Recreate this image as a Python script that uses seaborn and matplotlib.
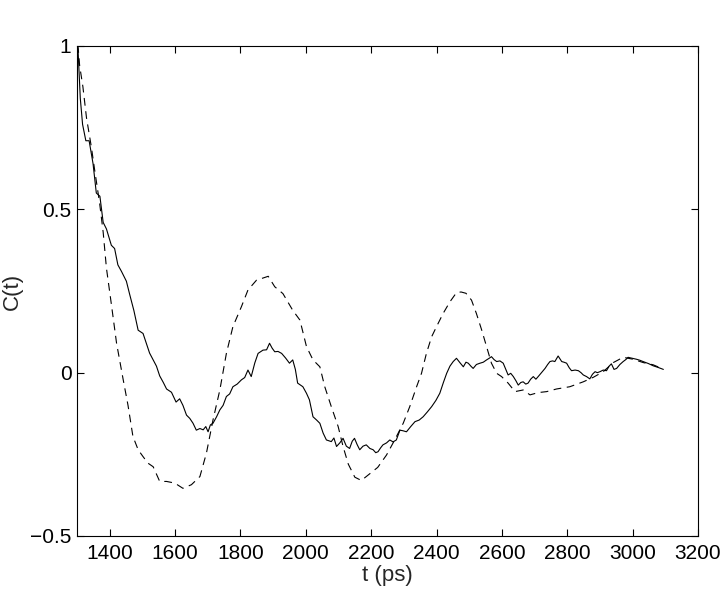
import matplotlib
matplotlib.use("Agg")
from matplotlib import pyplot as plt
import pandas as pd
import seaborn as sns

# solid curve C(t)
t_solid = [1300, 1303, 1310, 1317, 1327, 1337, 1349, 1359, 1370, 1380, 1390, 1405,
           1415, 1425, 1436, 1451, 1461, 1474, 1487, 1502, 1522, 1543, 1553, 1564,
           1574, 1589, 1603, 1614, 1624, 1635, 1645, 1655, 1665, 1676, 1686, 1694,
           1701, 1708, 1716, 1727, 1737, 1747, 1757, 1767, 1777, 1790, 1803, 1813,
           1823, 1833, 1844, 1854, 1869, 1880, 1889, 1897, 1905, 1915, 1926, 1938,
           1950, 1960, 1968, 1975, 1991, 2002, 2011, 2022, 2033, 2043, 2053, 2063,
           2078, 2086, 2094, 2104, 2114, 2124, 2134, 2142, 2149, 2157, 2165, 2175,
           2185, 2196, 2206, 2214, 2221, 2229, 2236, 2247, 2257, 2267, 2277, 2283,
           2288, 2298, 2308, 2321, 2334, 2347, 2359, 2372, 2385, 2398, 2410, 2421,
           2431, 2441, 2451, 2461, 2472, 2482, 2490, 2497, 2505, 2512, 2522, 2533,
           2543, 2553, 2561, 2568, 2576, 2584, 2594, 2604, 2612, 2619, 2627, 2635,
           2643, 2650, 2658, 2665, 2673, 2680, 2688, 2696, 2704, 2711, 2721, 2732,
           2740, 2747, 2755, 2762, 2772, 2778, 2783, 2790, 2798, 2806, 2813, 2824,
           2834, 2842, 2849, 2859, 2869, 2877, 2885, 2892, 2900, 2910, 2920, 2928,
           2935, 2943, 2951, 2961, 2971, 2979, 2986, 2999, 3012, 3022, 3032, 3048,
           3063, 3078, 3094]
c_solid = [1.00, 0.99, 0.84, 0.76, 0.71, 0.71, 0.64, 0.55, 0.54, 0.46, 0.44, 0.39,
           0.38, 0.33, 0.31, 0.28, 0.24, 0.19, 0.13, 0.12, 0.06, 0.02, -0.01, -0.03,
           -0.05, -0.06, -0.09, -0.08, -0.10, -0.13, -0.14, -0.155, -0.176, -0.171, -0.175, -0.165,
           -0.181, -0.16, -0.155, -0.135, -0.114, -0.10, -0.073, -0.065, -0.043, -0.035, -0.022, -0.015,
           0.008, -0.012, 0.03, 0.059, 0.069, 0.07, 0.090, 0.075, 0.064, 0.065, 0.059, 0.045,
           0.029, 0.039, 0.01, -0.032, -0.043, -0.063, -0.083, -0.135, -0.145, -0.155, -0.185, -0.206,
           -0.211, -0.2, -0.226, -0.215, -0.201, -0.225, -0.232, -0.21, -0.201, -0.22, -0.236, -0.225,
           -0.221, -0.232, -0.236, -0.245, -0.242, -0.23, -0.221, -0.215, -0.206, -0.212, -0.206, -0.19,
           -0.176, -0.178, -0.181, -0.165, -0.150, -0.145, -0.135, -0.12, -0.104, -0.085, -0.063, -0.03,
           -0.002, 0.02, 0.034, 0.044, 0.03, 0.018, 0.032, 0.029, 0.02, 0.013, 0.025, 0.029,
           0.032, 0.039, 0.044, 0.049, 0.04, 0.034, 0.036, 0.029, 0.01, -0.007, -0.002, -0.012,
           -0.025, -0.038, -0.03, -0.028, -0.035, -0.032, -0.02, -0.012, -0.02, -0.012, 0.0, 0.013,
           0.025, 0.034, 0.036, 0.034, 0.051, 0.042, 0.034, 0.032, 0.029, 0.015, 0.006, 0.008,
           0.006, 0.0, -0.007, -0.012, -0.019, -0.005, 0.003, 0.0, 0.003, 0.008, 0.006, 0.02,
           0.027, 0.01, 0.013, 0.025, 0.034, 0.04, 0.047, 0.044, 0.041, 0.038, 0.034, 0.028,
           0.021, 0.016, 0.010]

# dashed curve C(t)
t_dash = [1300, 1303, 1308, 1318, 1329, 1344, 1354, 1369, 1380, 1390, 1405, 1421,
          1441, 1456, 1471, 1487, 1502, 1517, 1533, 1553, 1574, 1599, 1624, 1650,
          1676, 1696, 1716, 1737, 1757, 1777, 1803, 1823, 1849, 1870, 1885, 1905,
          1930, 1960, 1982, 2002, 2022, 2043, 2058, 2078, 2099, 2114, 2130, 2150,
          2170, 2195, 2220, 2247, 2272, 2298, 2318, 2339, 2354, 2369, 2385, 2400,
          2420, 2441, 2461, 2475, 2490, 2507, 2522, 2538, 2553, 2568, 2584, 2599,
          2619, 2640, 2665, 2686, 2711, 2737, 2767, 2808, 2849, 2880, 2910, 2941,
          2971, 3002, 3032, 3063, 3089]
c_dash = [1.00, 1.00, 0.94, 0.875, 0.78, 0.69, 0.62, 0.52, 0.43, 0.32, 0.21, 0.09,
          -0.02, -0.10, -0.195, -0.236, -0.257, -0.277, -0.288, -0.333, -0.333, -0.338, -0.354, -0.343,
          -0.318, -0.246, -0.145, -0.053, 0.059, 0.141, 0.202, 0.253, 0.283, 0.29, 0.295, 0.263,
          0.242, 0.191, 0.161, 0.080, 0.039, 0.018, -0.043, -0.104, -0.165, -0.226, -0.28, -0.32,
          -0.33, -0.31, -0.29, -0.252, -0.206, -0.155, -0.104, -0.043, -0.002, 0.059, 0.110, 0.141,
          0.181, 0.217, 0.245, 0.247, 0.243, 0.222, 0.181, 0.131, 0.080, 0.029, -0.002, -0.012,
          -0.032, -0.058, -0.053, -0.068, -0.061, -0.058, -0.05, -0.043, -0.028, -0.014, 0.003, 0.031,
          0.047, 0.041, 0.031, 0.024, 0.013]

x_ticks = [1400, 1600, 1800, 2000, 2200, 2400, 2600, 2800, 3000, 3200]
y_ticks = [-0.5, 0, 0.5, 1]
y_labels = ["\u22120.5", "0", "0.5", "1"]

sns.set_style("ticks")
plt.rcParams["font.family"] = ["Liberation Sans", "DejaVu Sans"]

fig = plt.figure(figsize=(7.28, 5.92), dpi=100)
ax = fig.add_axes([0.1058, 0.0946, 0.8530, 0.8277])

df_solid = pd.DataFrame({"t": t_solid, "c": c_solid})
df_dash = pd.DataFrame({"t": t_dash, "c": c_dash})
sns.lineplot(data=df_solid, x="t", y="c", ax=ax, color="black", linewidth=0.8,
             estimator=None, sort=False)
sns.lineplot(data=df_dash, x="t", y="c", ax=ax, color="black", linewidth=0.8,
             estimator=None, sort=False, linestyle=(0, (7, 5)))

ax.set_xlim(1300, 3200)
ax.set_ylim(-0.5, 1)
ax.set_xticks(x_ticks)
ax.set_yticks(y_ticks)
ax.set_yticklabels(y_labels)
ax.tick_params(direction="in", length=5, width=0.8, labelsize=15,
               top=True, right=True, colors="black")
ax.tick_params(axis="x", pad=6)
ax.tick_params(axis="y", pad=4)
for s in ax.spines.values():
    s.set_visible(True)
    s.set_linewidth(0.8)
    s.set_color("black")
ax.set_xlabel("t (ps)", fontsize=16, labelpad=1)
ax.set_ylabel("C(t)", fontsize=16)
ax.yaxis.set_label_coords(-0.088, 0.5)

fig.savefig("out.png", dpi=100)
